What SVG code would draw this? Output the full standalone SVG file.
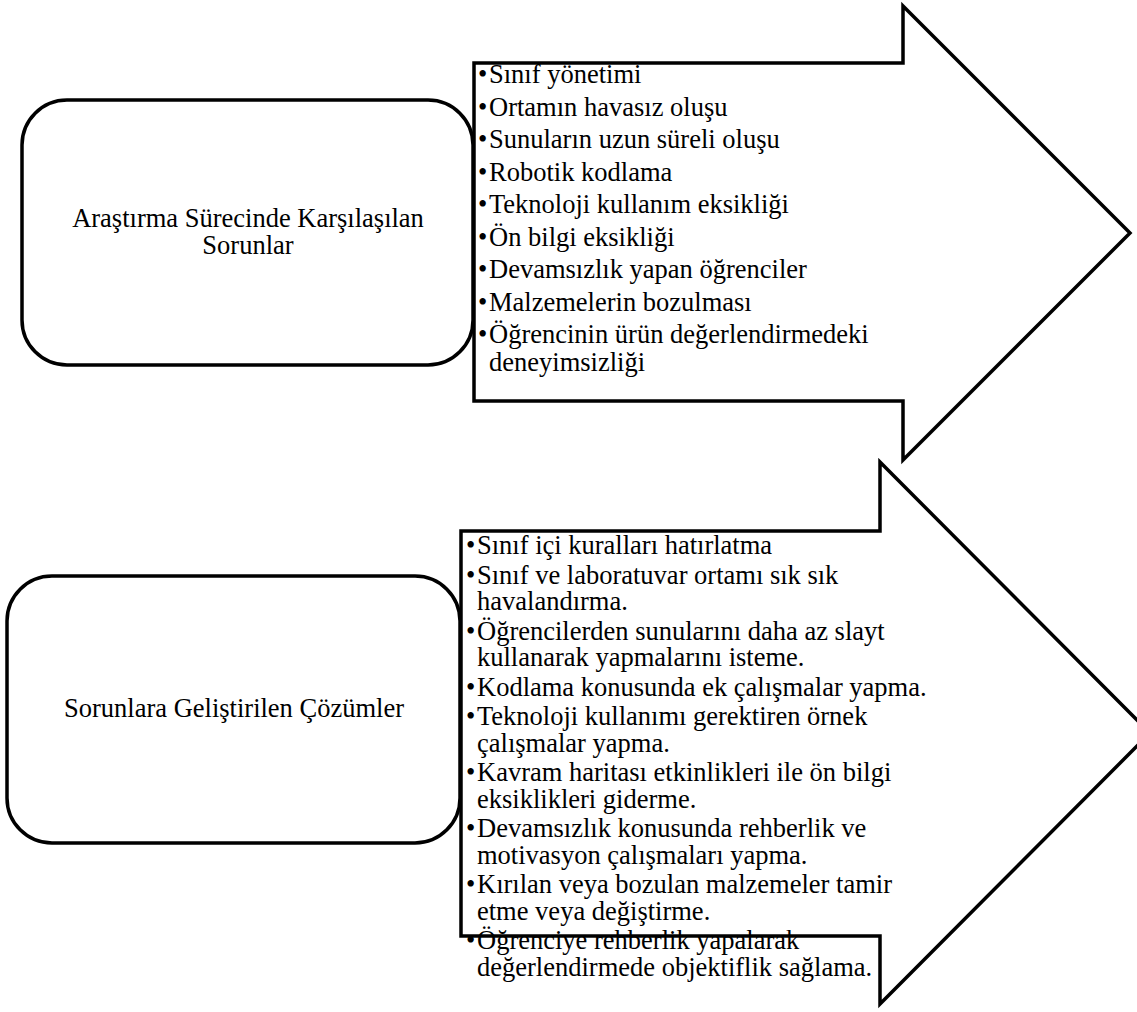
<svg xmlns="http://www.w3.org/2000/svg" width="1137" height="1012" viewBox="0 0 1137 1012" font-family="'Liberation Serif', 'Times New Roman', Tinos, serif">
<style>
.box{fill:#fff;stroke:#000;stroke-width:3.5}
.arrow{fill:#fff;stroke:#000;stroke-width:3.5;stroke-linejoin:miter}
.t{font-family:'Liberation Serif','Times New Roman',Tinos,serif;font-size:26.5px;fill:#000}
.c{text-anchor:middle}
</style>
<rect width="1137" height="1012" fill="#fff"/>
<g id="connectors"></g>
<g id="arrow1" class="t">
<polygon class="arrow" points="474,63 903,63 903,6 1130,233 903,460 903,401 474,401"/>
<text x="478" y="83">•</text><text x="489" y="83">Sınıf yönetimi</text>
<text x="478" y="115.5">•</text><text x="489" y="115.5">Ortamın havasız oluşu</text>
<text x="478" y="148">•</text><text x="489" y="148">Sunuların uzun süreli oluşu</text>
<text x="478" y="180.5">•</text><text x="489" y="180.5">Robotik kodlama</text>
<text x="478" y="213">•</text><text x="489" y="213">Teknoloji kullanım eksikliği</text>
<text x="478" y="245.5">•</text><text x="489" y="245.5">Ön bilgi eksikliği</text>
<text x="478" y="278">•</text><text x="489" y="278">Devamsızlık yapan öğrenciler</text>
<text x="478" y="310.5">•</text><text x="489" y="310.5">Malzemelerin bozulması</text>
<text x="478" y="343">•</text><text x="489" y="343">Öğrencinin ürün değerlendirmedeki</text>
<text x="489" y="371">deneyimsizliği</text>
</g>
<g id="node1" class="t">
<rect class="box" x="22" y="100" width="451" height="265" rx="45" ry="45"/>
<text class="c" x="248" y="227">Araştırma Sürecinde Karşılaşılan</text>
<text class="c" x="248" y="254">Sorunlar</text>
</g>
<g id="arrow2" class="t">
<polygon class="arrow" points="461,531 880,531 880,462 1150,733 880,1004 880,936 461,936"/>
<text x="466" y="554">•</text><text x="477" y="554">Sınıf içi kuralları hatırlatma</text>
<text x="466" y="583.5">•</text><text x="477" y="583.5">Sınıf ve laboratuvar ortamı sık sık</text>
<text x="477" y="610">havalandırma.</text>
<text x="466" y="639.5">•</text><text x="477" y="639.5">Öğrencilerden sunularını daha az slayt</text>
<text x="477" y="666">kullanarak yapmalarını isteme.</text>
<text x="466" y="695.5">•</text><text x="477" y="695.5">Kodlama konusunda ek çalışmalar yapma.</text>
<text x="466" y="725">•</text><text x="477" y="725">Teknoloji kullanımı gerektiren örnek</text>
<text x="477" y="751.5">çalışmalar yapma.</text>
<text x="466" y="781">•</text><text x="477" y="781">Kavram haritası etkinlikleri ile ön bilgi</text>
<text x="477" y="807.5">eksiklikleri giderme.</text>
<text x="466" y="837">•</text><text x="477" y="837">Devamsızlık konusunda rehberlik ve</text>
<text x="477" y="863.5">motivasyon çalışmaları yapma.</text>
<text x="466" y="893">•</text><text x="477" y="893">Kırılan veya bozulan malzemeler tamir</text>
<text x="477" y="919.5">etme veya değiştirme.</text>
<text x="466" y="949">•</text><text x="477" y="949">Öğrenciye rehberlik yapalarak</text>
<text x="477" y="975.5">değerlendirmede objektiflik sağlama.</text>
</g>
<g id="node2" class="t">
<rect class="box" x="7" y="576" width="453" height="267" rx="45" ry="45"/>
<text class="c" x="234" y="717">Sorunlara Geliştirilen Çözümler</text>
</g>
</svg>
